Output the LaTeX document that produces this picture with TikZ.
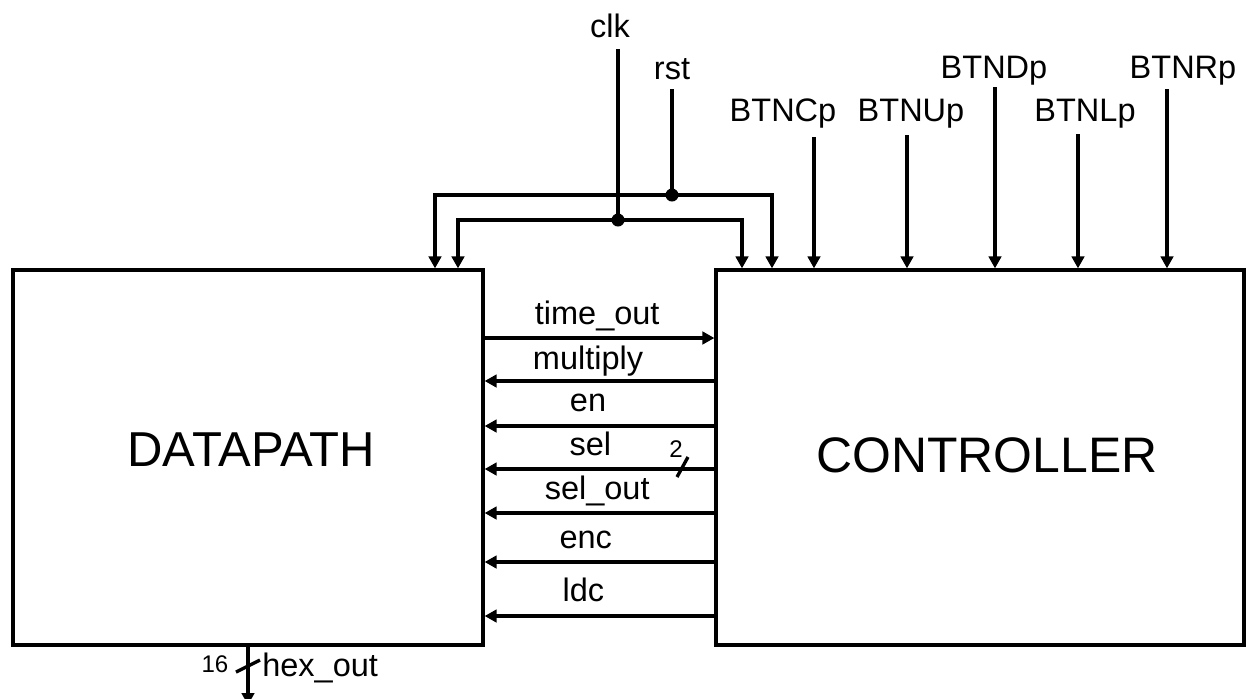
\documentclass[tikz,border=0pt]{standalone}
\usepackage{fontspec}
\setmainfont{Liberation Sans}
\usepackage{tikz}
\usetikzlibrary{arrows.meta}
\tikzstyle{blockNode}=[rectangle, draw=black, line width=1.9pt, minimum height=7.5cm,
  inner sep=0pt, font=\fontsize{27.9}{32}\selectfont]
\tikzstyle{sigLabel}=[font=\fontsize{18.5}{22}\selectfont, inner sep=0pt, anchor=base]
\tikzstyle{busLabel}=[font=\fontsize{13.7}{16}\selectfont, inner sep=0pt, anchor=base]
\tikzstyle{wire}=[line width=1.9pt]
\tikzstyle{arr}=[-{Triangle[length=2.4mm, width=2.5mm]}, line width=1.9pt]
\tikzstyle{dot}=[circle, fill=black, inner sep=0pt, minimum size=2.6mm]

\begin{document}
\begin{tikzpicture}[x=0.02cm, y=-0.02cm]
\useasboundingbox (0,0) rectangle (1248,698);
\node[blockNode, minimum width=9.4cm] (dp) at (248,457.5) {\hspace{0.12cm}\raisebox{0.3cm}{DATAPATH}};
\node[blockNode, minimum width=10.56cm] (ctrl) at (980,457.5) {\hspace{0.28cm}\raisebox{0.08cm}{\fontsize{28.4}{32}\selectfont CONTROLLER}};

\node[sigLabel] (clk) at (610,37) {clk};
\node[sigLabel] (rst) at (672,79) {rst};
\coordinate (clkT) at (618,49);
\coordinate (rstT) at (672,89);
\node[dot] (clkJ) at (618,220) {};
\node[dot] (rstJ) at (672,195) {};
\draw[wire] (clkT) -- (clkJ.center);
\draw[wire] (rstT) -- (rstJ.center);
\draw[arr] (rstJ.center) -| (dp.north -| 435,0);
\draw[arr] (rstJ.center) -| (ctrl.north -| 772,0);
\draw[arr] (clkJ.center) -| (dp.north -| 458,0);
\draw[arr] (clkJ.center) -| (ctrl.north -| 742,0);

\node[sigLabel] (btnc) at (783,121) {BTNCp};
\node[sigLabel] (btnu) at (911,121) {BTNUp};
\node[sigLabel] (btnd) at (994,78) {BTNDp};
\node[sigLabel] (btnl) at (1085,121) {BTNLp};
\node[sigLabel] (btnr) at (1183,78) {BTNRp};
\coordinate (btncT) at (814,137);
\coordinate (btnuT) at (907,135);
\coordinate (btndT) at (995,87);
\coordinate (btnlT) at (1078,134);
\coordinate (btnrT) at (1167,89);
\draw[arr] (btncT) -- (ctrl.north -| btncT);
\draw[arr] (btnuT) -- (ctrl.north -| btnuT);
\draw[arr] (btndT) -- (ctrl.north -| btndT);
\draw[arr] (btnlT) -- (ctrl.north -| btnlT);
\draw[arr] (btnrT) -- (ctrl.north -| btnrT);

\draw[arr] (dp.east |- 0,338) -- node[sigLabel, pos=0.49, yshift=0.28cm] {time\_out} (ctrl.west |- 0,338);
\draw[arr] (ctrl.west |- 0,381) -- node[sigLabel, pos=0.55, yshift=0.24cm] {multiply} (dp.east |- 0,381);
\draw[arr] (ctrl.west |- 0,426) -- node[sigLabel, pos=0.55, yshift=0.29cm] {en} (dp.east |- 0,426);
\draw[arr] (ctrl.west |- 0,469) -- node[sigLabel, pos=0.54, yshift=0.28cm] {sel} (dp.east |- 0,469);
\draw[arr] (ctrl.west |- 0,513) -- node[sigLabel, pos=0.51, yshift=0.27cm] {sel\_out} (dp.east |- 0,513);
\draw[arr] (ctrl.west |- 0,562) -- node[sigLabel, pos=0.56, yshift=0.28cm] {enc} (dp.east |- 0,562);
\draw[arr] (ctrl.west |- 0,616) -- node[sigLabel, pos=0.57, yshift=0.29cm] {ldc} (dp.east |- 0,616);
\coordinate (selBus) at (682.5,467);
\draw[wire] (selBus) ++(-5.5,10) -- ++(11,-20);
\node[busLabel] (selW) at (676,457) {2};

\coordinate (hexEnd) at (248,705);
\draw[arr] (dp.south -| hexEnd) -- (hexEnd);
\coordinate (hexBus) at (248,666);
\draw[wire] (hexBus) ++(-12,6) -- ++(24,-12);
\node[busLabel] (hexW) at (215,672) {16};
\node[sigLabel, anchor=base west] (hex) at (262,676) {hex\_out};
\end{tikzpicture}
\end{document}
